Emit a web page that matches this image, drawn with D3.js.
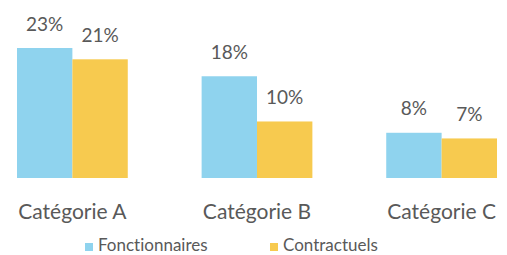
<!DOCTYPE html>
<html>
<head>
<meta charset="utf-8">
<script src="https://cdn.jsdelivr.net/npm/d3@7"></script>
<style>
    body { margin: 0; background: #fff; }
    text { font-family: Lato, "Open Sans", sans-serif; fill: #595959; font-variant-ligatures: none; }
</style>
</head>
<body>
<svg id="chart" width="507" height="255"></svg>
<script>
const categories = ['Catégorie A', 'Catégorie B', 'Catégorie C'];
const seriesNames = ['Fonctionnaires', 'Contractuels'];
const fonctionnaires = [23, 18, 8];
const contractuels = [21, 10, 7];

const colors = { Fonctionnaires: '#8fd3ee', Contractuels: '#f7ca4f' };

const svg = d3.select('#chart');
const baseline = 178; // bottom of the bars

// one row per category, both series side by side
const rows = categories.map((c, i) => ({
    cat: c,
    values: [
        { key: seriesNames[0], v: fonctionnaires[i] },
        { key: seriesNames[1], v: contractuels[i] }
    ]
}));

const x = d3.scaleBand().domain(categories).range([17, 497]).paddingInner(0.4).paddingOuter(0);
const x1 = d3.scaleBand().domain(seriesNames).range([0, x.bandwidth()]);
const y = d3.scaleLinear().domain([0, 23]).range([baseline, 48]);

const groups = svg.append('g').selectAll('g.cat')
    .data(rows)
    .enter()
    .append('g')
        .attr('class', 'cat')
        .attr('transform', d => `translate(${x(d.cat)},0)`);

groups.selectAll('rect')
    .data(d => d.values)
    .enter()
    .append('rect')
        .attr('x', d => x1(d.key))
        .attr('y', d => y(d.v))
        .attr('width', x1.bandwidth())
        .attr('height', d => baseline - y(d.v))
        .attr('fill', d => colors[d.key]);

// value labels above the bars
groups.selectAll('text.val')
    .data(d => d.values)
    .enter()
    .append('text')
        .attr('class', 'val')
        .attr('x', d => x1(d.key) + x1.bandwidth() / 2)
        .attr('y', d => y(d.v) - 17.5)
        .attr('text-anchor', 'middle')
        .style('font-size', '19px')
        .text(d => d.v + '%');

// category axis, no line or ticks
const axisG = svg.append('g')
    .attr('transform', `translate(0,${baseline})`)
    .call(d3.axisBottom(x).tickSize(0).tickPadding(26));
axisG.select('.domain').remove();
axisG.selectAll('text')
    .style('font-family', 'Lato, "Open Sans", sans-serif')
    .style('font-size', '21px')
    .attr('fill', '#595959');

// legend
const legendX = [85, 270];
const legend = svg.append('g').selectAll('g.leg')
    .data(seriesNames)
    .enter()
    .append('g')
        .attr('class', 'leg')
        .attr('transform', (d, i) => `translate(${legendX[i]},243)`);

legend.append('rect')
    .attr('width', 8)
    .attr('height', 8)
    .attr('fill', d => colors[d]);

legend.append('text')
    .attr('x', 13)
    .attr('y', 8)
    .style('font-size', '17px')
    .text(d => d);
</script>
</body>
</html>
